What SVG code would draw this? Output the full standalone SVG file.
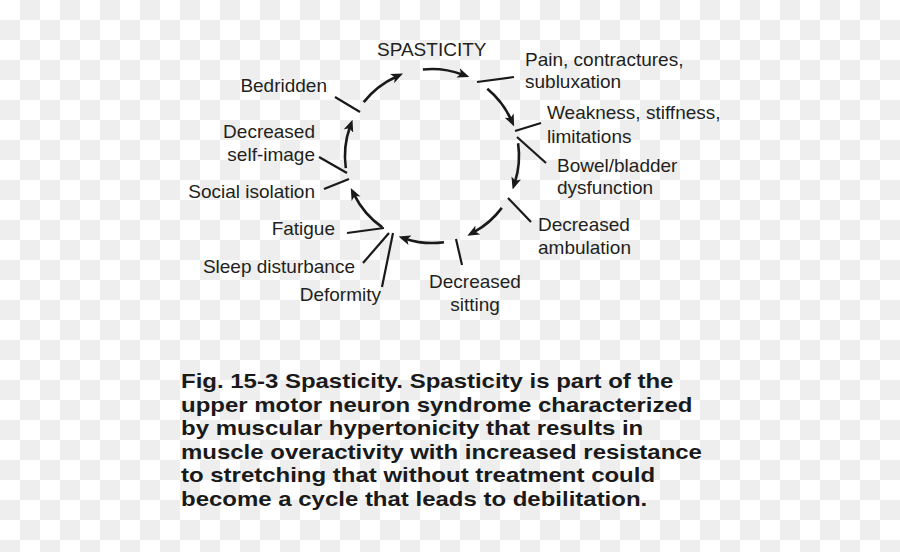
<svg xmlns="http://www.w3.org/2000/svg" width="900" height="552" viewBox="0 0 900 552">
<style>
.lbl{font-family:"Liberation Sans",Arial,sans-serif;font-size:19px;fill:#231f20}
.cap{font-family:"Liberation Sans",Arial,sans-serif;font-size:20.5px;font-weight:bold;fill:#1a1a1a}
.arc{fill:none;stroke:#1a1a1a;stroke-width:2.6;marker-end:url(#ah)}
.tick{stroke:#1a1a1a;stroke-width:2.2;fill:none}
</style>
<defs>
<pattern id="chk" width="40" height="40" patternUnits="userSpaceOnUse">
<rect width="40" height="40" fill="#ffffff"/>
<rect x="20" y="0" width="20" height="20" fill="#eeeeee"/>
<rect x="0" y="20" width="20" height="20" fill="#eeeeee"/>
</pattern>
<marker id="ah" markerUnits="userSpaceOnUse" viewBox="0 0 12 10" markerWidth="12" markerHeight="10" refX="4.5" refY="5" orient="auto">
<path d="M0,0 L12,5 L0,10 L3,5 Z" fill="#1a1a1a"/>
</marker>
</defs>
<rect width="900" height="552" fill="url(#chk)"/>

<g id="connectors">
<path class="arc" d="M422.9,69.5 A87,87 0 0 1 462.3,74.5"/>
<path class="arc" d="M487.3,88.8 A87,87 0 0 1 511.0,119.6"/>
<path class="arc" d="M518.1,143.3 A87,87 0 0 1 514.9,182.3"/>
<path class="arc" d="M501.8,207.9 A87,87 0 0 1 473.9,232.2"/>
<path class="arc" d="M444.0,242.2 A87,87 0 0 1 405.7,238.9"/>
<path class="arc" d="M382.3,227.4 A87,87 0 0 1 354.1,194.7"/>
<path class="arc" d="M345.8,168.1 A87,87 0 0 1 350.0,126.8"/>
<path class="arc" d="M363.7,102.1 A87,87 0 0 1 396.2,76.7"/>
<line class="tick" x1="477" y1="82" x2="514" y2="77"/>
<line class="tick" x1="515" y1="131" x2="541" y2="123"/>
<line class="tick" x1="517" y1="137" x2="546" y2="163"/>
<line class="tick" x1="508" y1="198" x2="531" y2="222"/>
<line class="tick" x1="456" y1="239" x2="462" y2="265"/>
<line class="tick" x1="393" y1="233" x2="382" y2="287"/>
<line class="tick" x1="389" y1="233" x2="363" y2="263"/>
<line class="tick" x1="384" y1="228" x2="347" y2="233"/>
<line class="tick" x1="349" y1="179" x2="324" y2="189"/>
<line class="tick" x1="347" y1="173" x2="319" y2="157"/>
<line class="tick" x1="360" y1="112" x2="335" y2="97"/>
</g>

<g id="spasticity"><text class="lbl" x="377" y="56">SPASTICITY</text></g>
<g id="pain"><text class="lbl" x="525" y="66">Pain, contractures,</text><text class="lbl" x="525" y="88">subluxation</text></g>
<g id="weakness"><text class="lbl" x="547" y="119">Weakness, stiffness,</text><text class="lbl" x="547" y="143">limitations</text></g>
<g id="bowel"><text class="lbl" x="557" y="172">Bowel/bladder</text><text class="lbl" x="557" y="194">dysfunction</text></g>
<g id="ambulation"><text class="lbl" x="538" y="231">Decreased</text><text class="lbl" x="538" y="254">ambulation</text></g>
<g id="sitting"><text class="lbl" x="475" y="288" text-anchor="middle">Decreased</text><text class="lbl" x="475" y="311" text-anchor="middle">sitting</text></g>
<g id="deformity"><text class="lbl" x="381" y="301" text-anchor="end">Deformity</text></g>
<g id="sleep"><text class="lbl" x="355" y="273" text-anchor="end">Sleep disturbance</text></g>
<g id="fatigue"><text class="lbl" x="335" y="235" text-anchor="end">Fatigue</text></g>
<g id="social"><text class="lbl" x="315" y="198" text-anchor="end">Social isolation</text></g>
<g id="selfimage"><text class="lbl" x="315" y="138" text-anchor="end">Decreased</text><text class="lbl" x="315" y="161" text-anchor="end">self-image</text></g>
<g id="bedridden"><text class="lbl" x="327" y="92" text-anchor="end">Bedridden</text></g>

<g id="caption" transform="translate(181,0) scale(1.17,1)">
<text class="cap" x="0" y="388">Fig. 15-3 Spasticity. Spasticity is part of the</text>
<text class="cap" x="0" y="411.6">upper motor neuron syndrome characterized</text>
<text class="cap" x="0" y="435.2">by muscular hypertonicity that results in</text>
<text class="cap" x="0" y="458.8">muscle overactivity with increased resistance</text>
<text class="cap" x="0" y="482.4">to stretching that without treatment could</text>
<text class="cap" x="0" y="506">become a cycle that leads to debilitation.</text>
</g>
</svg>
